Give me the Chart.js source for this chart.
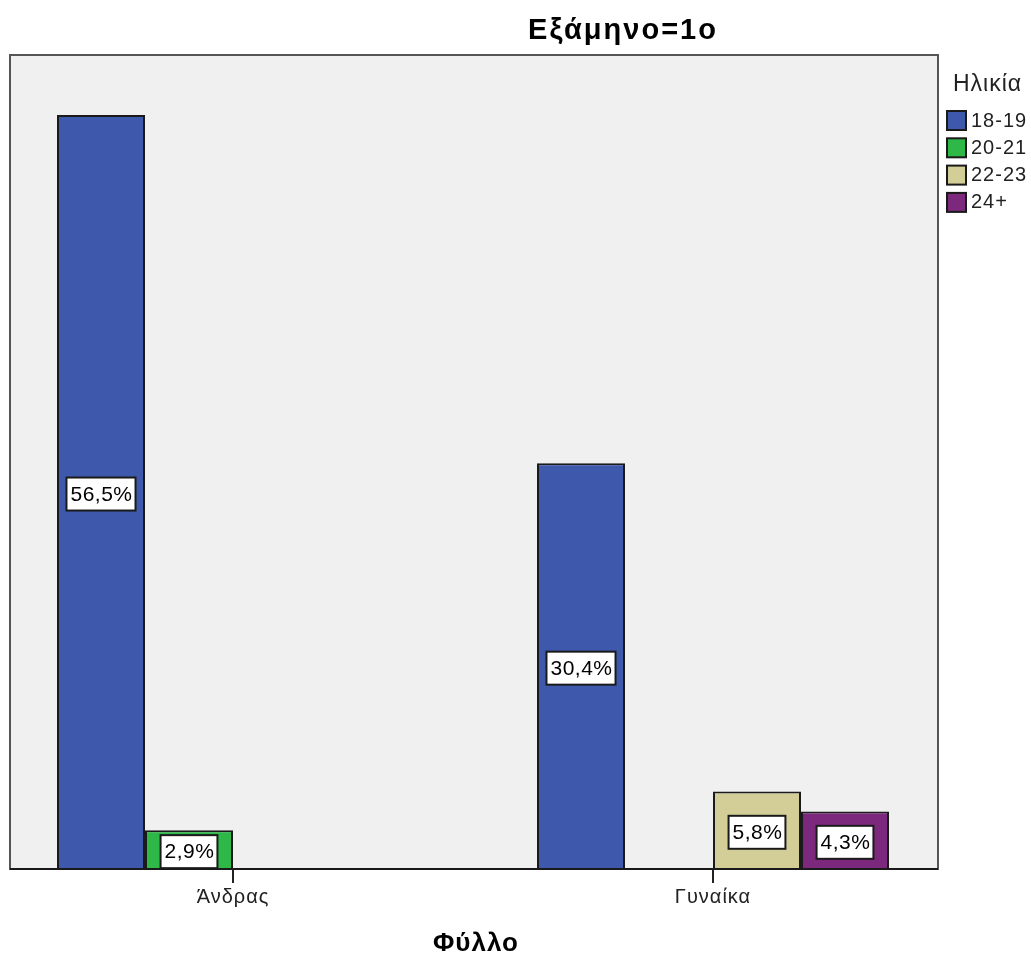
<!DOCTYPE html>
<html>
<head>
<meta charset="utf-8">
<script src="https://cdn.jsdelivr.net/npm/chart.js@4/dist/chart.umd.min.js"></script>
<style>
  html, body { margin: 0; padding: 0; background: #ffffff; }
  canvas { display: block; }
</style>
</head>
<body>
<canvas id="c" width="1031" height="958"></canvas>
<script>
// Clustered bars: share of students per gender and age group, 1st semester
const categories = ['Άνδρας', 'Γυναίκα'];
const ageGroups = ['18-19', '20-21', '22-23', '24+'];
const age18_19 = [56.5, 30.4];
const age20_21 = [2.9, null];
const age22_23 = [null, 5.8];
const age24plus = [null, 4.3];
const chartTitle = 'Εξάμηνο=1ο';
const legendTitle = 'Ηλικία';
const xAxisTitle = 'Φύλλο';
const yMax = 61;

const colors = ['#3e58ac', '#2eb848', '#d3ce97', '#7c287d'];
const seriesValues = [age18_19, age20_21, age22_23, age24plus];

const FONT = "'Liberation Sans', Arial, sans-serif";

// Plot frame (grey panel) around the bars
const frame = { left: 10, top: 55, right: 938, bottom: 869 };

function fmt(v) {
  return v.toFixed(1).replace('.', ',') + '%';
}

const spssDecor = {
  id: 'spssDecor',
  beforeDatasetsDraw(chart) {
    const ctx = chart.ctx;
    ctx.save();
    ctx.fillStyle = '#ffffff';
    ctx.fillRect(0, 0, chart.width, chart.height);
    ctx.fillStyle = '#f0f0f0';
    ctx.fillRect(frame.left, frame.top, frame.right - frame.left, frame.bottom - frame.top);
    ctx.restore();
  },
  afterDatasetsDraw(chart) {
    const ctx = chart.ctx;
    const xScale = chart.scales.x;
    ctx.save();

    // frame
    ctx.strokeStyle = '#555555';
    ctx.lineWidth = 2;
    ctx.strokeRect(frame.left, frame.top, frame.right - frame.left, frame.bottom - frame.top);
    ctx.strokeStyle = '#1a1a1a';
    ctx.lineWidth = 2;
    ctx.beginPath();
    ctx.moveTo(frame.left, frame.bottom);
    ctx.lineTo(frame.right, frame.bottom);
    ctx.stroke();

    // value labels in white boxes
    ctx.font = '21px ' + FONT;
    ctx.letterSpacing = '0.5px';
    ctx.textAlign = 'center';
    ctx.textBaseline = 'middle';
    chart.data.datasets.forEach((ds, di) => {
      const meta = chart.getDatasetMeta(di);
      meta.data.forEach((bar, i) => {
        const v = ds.data[i];
        if (v === null || v === undefined) return;
        const txt = fmt(v);
        const w = ctx.measureText(txt).width + 7;
        const h = 33;
        const cx = bar.x;
        const cy = (bar.y + bar.base) / 2 + 2;
        ctx.fillStyle = '#ffffff';
        ctx.fillRect(cx - w / 2, cy - h / 2, w, h);
        ctx.strokeStyle = '#1a1a1a';
        ctx.lineWidth = 2;
        ctx.strokeRect(cx - w / 2, cy - h / 2, w, h);
        ctx.fillStyle = '#000000';
        ctx.fillText(txt, cx + 0.5, cy + 1);
      });
    });

    // category ticks and labels
    ctx.strokeStyle = '#222222';
    ctx.lineWidth = 2;
    ctx.fillStyle = '#222222';
    ctx.font = '20px ' + FONT;
    ctx.letterSpacing = '1px';
    ctx.textBaseline = 'top';
    categories.forEach((c, i) => {
      const x = xScale.getPixelForValue(i);
      ctx.beginPath();
      ctx.moveTo(x, frame.bottom);
      ctx.lineTo(x, frame.bottom + 14);
      ctx.stroke();
      ctx.fillText(c, x, frame.bottom + 18);
    });

    // chart title
    ctx.fillStyle = '#000000';
    ctx.font = 'bold 29px ' + FONT;
    ctx.letterSpacing = '2px';
    ctx.textBaseline = 'alphabetic';
    ctx.fillText(chartTitle, 623, 39);

    // axis title
    ctx.font = 'bold 26px ' + FONT;
    ctx.letterSpacing = '1px';
    ctx.textBaseline = 'middle';
    ctx.fillText(xAxisTitle, 476, 944);

    // legend
    ctx.textAlign = 'left';
    ctx.fillStyle = '#222222';
    ctx.font = '23px ' + FONT;
    ctx.letterSpacing = '1px';
    ctx.textBaseline = 'alphabetic';
    ctx.fillText(legendTitle, 953, 91);
    ctx.font = '20px ' + FONT;
    ctx.letterSpacing = '1px';
    ctx.textBaseline = 'middle';
    ageGroups.forEach((g, i) => {
      const top = 111 + i * 27.3;
      ctx.fillStyle = colors[i];
      ctx.fillRect(947, top, 19, 19);
      ctx.strokeStyle = '#1a1a1a';
      ctx.lineWidth = 2;
      ctx.strokeRect(947, top, 19, 19);
      ctx.fillStyle = '#222222';
      ctx.fillText(g, 971, top + 10);
    });

    ctx.restore();
  }
};

new Chart(document.getElementById('c'), {
  type: 'bar',
  data: {
    labels: categories,
    datasets: ageGroups.map((g, i) => ({
      label: g,
      data: seriesValues[i],
      backgroundColor: colors[i],
      borderColor: '#1a1a1a',
      borderWidth: 2,
      clip: false,
      categoryPercentage: 352 / 480,
      barPercentage: 1.0
    }))
  },
  options: {
    responsive: false,
    devicePixelRatio: 1,
    animation: false,
    layout: { padding: { left: 233, right: 318, top: 55, bottom: 89 } },
    plugins: {
      legend: { display: false },
      title: { display: false },
      tooltip: { enabled: false }
    },
    scales: {
      x: { display: false, offset: false },
      y: { display: false, min: 0, max: yMax }
    }
  },
  plugins: [spssDecor]
});
</script>
</body>
</html>
